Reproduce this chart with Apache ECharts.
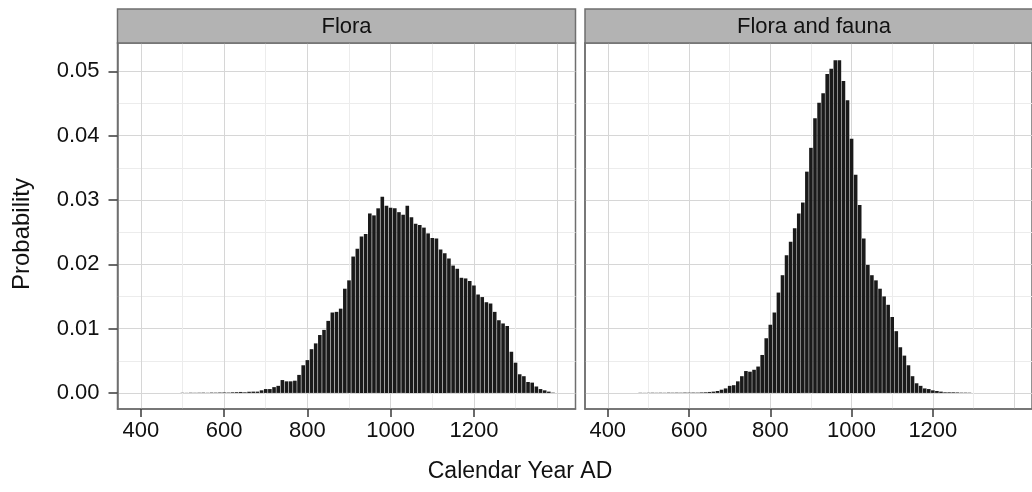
<!DOCTYPE html>
<html>
<head>
<meta charset="utf-8">
<title>Flora / Flora and fauna</title>
<script src="https://cdn.jsdelivr.net/npm/echarts@6/dist/echarts.min.js"></script>
<style>
  html, body { margin: 0; padding: 0; background: #fff; }
  #chart { width: 1032px; height: 492px; }
</style>
</head>
<body>
<div id="chart"></div>
<script>
// facet titles
const panels = ["Flora", "Flora and fauna"];

// bin centres (10-year bins) and probabilities
const floraYears = [
  500, 510, 520, 530, 540, 550, 560, 570, 580, 590,
  600, 610, 620, 630, 640, 650, 660, 670, 680, 690,
  700, 710, 720, 730, 740, 750, 760, 770, 780, 790,
  800, 810, 820, 830, 840, 850, 860, 870, 880, 890,
  900, 910, 920, 930, 940, 950, 960, 970, 980, 990,
  1000, 1010, 1020, 1030, 1040, 1050, 1060, 1070, 1080, 1090,
  1100, 1110, 1120, 1130, 1140, 1150, 1160, 1170, 1180, 1190,
  1200, 1210, 1220, 1230, 1240, 1250, 1260, 1270, 1280, 1290,
  1300, 1310, 1320, 1330, 1340, 1350, 1360, 1370, 1380, 1390
];
const floraProb = [
  0.00003, 0.00002, 0.00004, 0.00003, 0.00004, 0.00005, 0.00003, 0.00006, 0.00005, 0.00007,
  0.00008, 0.00006, 0.0001, 0.00012, 0.00015, 0.0001, 0.00018, 0.0002, 0.0002, 0.0004,
  0.0006, 0.0006, 0.0009, 0.0011, 0.002, 0.0018, 0.0018, 0.0019, 0.0028, 0.0043,
  0.0051, 0.0068, 0.0077, 0.009, 0.0098, 0.0112, 0.0125, 0.0126, 0.0131, 0.0162,
  0.0175, 0.0212, 0.0224, 0.0243, 0.0247, 0.0279, 0.0276, 0.0287, 0.0305, 0.0291,
  0.0288, 0.0287, 0.0281, 0.0277, 0.0291, 0.0273, 0.0263, 0.0261, 0.0257, 0.0248,
  0.0241, 0.024, 0.0223, 0.0217, 0.0209, 0.0198, 0.0193, 0.0179, 0.0178, 0.0174,
  0.0167, 0.0153, 0.0149, 0.0141, 0.0139, 0.0126, 0.0113, 0.0108, 0.0104, 0.0064,
  0.0047, 0.0029, 0.0026, 0.0017, 0.0016, 0.001, 0.0006, 0.0004, 0.0002, 0.00005
];

const faunaYears = [
  480, 490, 500, 510, 520, 530, 540, 550, 560, 570, 580, 590,
  600, 610, 620, 630, 640, 650, 660, 670, 680, 690,
  700, 710, 720, 730, 740, 750, 760, 770, 780, 790,
  800, 810, 820, 830, 840, 850, 860, 870, 880, 890,
  900, 910, 920, 930, 940, 950, 960, 970, 980, 990,
  1000, 1010, 1020, 1030, 1040, 1050, 1060, 1070, 1080, 1090,
  1100, 1110, 1120, 1130, 1140, 1150, 1160, 1170, 1180, 1190,
  1200, 1210, 1220, 1230, 1240, 1250, 1260, 1270, 1280, 1290
];
const faunaProb = [
  0.00003, 0.00002, 0.00003, 0.00004, 0.00003, 0.00004, 0.00003, 0.00005, 0.00004, 0.00005, 0.00004, 0.00006,
  0.00005, 0.00006, 0.00005, 0.00008, 0.0001, 0.00015, 0.0002, 0.0003, 0.0005, 0.0007,
  0.0011, 0.0012, 0.0018, 0.0026, 0.0034, 0.0033, 0.0036, 0.0041, 0.0059, 0.0085,
  0.0106, 0.0125, 0.0156, 0.0183, 0.0214, 0.0235, 0.0256, 0.0279, 0.0296, 0.0344,
  0.0381, 0.0427, 0.0451, 0.0466, 0.0496, 0.0504, 0.0517, 0.0517, 0.0485, 0.0455,
  0.0395, 0.0339, 0.0292, 0.024, 0.0199, 0.0183, 0.0175, 0.0162, 0.015, 0.0137,
  0.0118, 0.0096, 0.0071, 0.0058, 0.0043, 0.0026, 0.0015, 0.0011, 0.0007, 0.0006,
  0.0004, 0.0003, 0.0002, 0.0001, 0.0001, 0.0001, 0.00008, 0.00005, 0.00005, 0.00004
];

// labelled breaks
const xTicks = [400, 600, 800, 1000, 1200];
const yTicks = [0, 0.01, 0.02, 0.03, 0.04, 0.05];

const FONT_FAMILY = "'Liberation Sans', Arial, Helvetica, sans-serif";
const X_MIN = 344, X_MAX = 1444;
const Y_MIN = -0.0025, Y_MAX = 0.0544;
const TOP = 43, H = 366, W = 458;
const LEFTS = [117.5, 585];
const STRIP_H = 34;
const BORDER = "#6f6f6f";
const TICK = "#3a3a3a";
const MAJOR = "#d6d6d6", MINOR = "#ececec";

const chart = echarts.init(document.getElementById("chart"));

const grids = [];
const xAxes = [];
const yAxes = [];
const series = [];
const graphics = [];

LEFTS.forEach((left, i) => {
  grids.push({
    left: left, top: TOP, width: W, height: H,
    show: true, backgroundColor: "#fff",
    borderColor: BORDER, borderWidth: 1.5
  });
  // visible axis: ticks + labels (line sits on the panel border)
  xAxes.push({
    type: "value", gridIndex: i, min: X_MIN, max: X_MAX, position: "bottom",
    axisLine: { show: true, onZero: false, lineStyle: { color: BORDER, width: 1.5 } },
    axisTick: { show: true, length: 8, customValues: xTicks, lineStyle: { color: TICK, width: 1.5 } },
    axisLabel: {
      show: true, customValues: xTicks, margin: 11, color: "#111", fontSize: 22, fontFamily: FONT_FAMILY,
      formatter: (v) => String(v)
    },
    splitLine: { show: false }
  });
  // hidden axis: grid lines every 100 years
  xAxes.push({
    type: "value", gridIndex: i, min: X_MIN, max: X_MAX, splitNumber: 11, position: "bottom",
    axisLine: { show: false, onZero: false }, axisTick: { show: false }, axisLabel: { show: false },
    splitLine: { show: true, showMinLine: false, showMaxLine: false, lineStyle: { color: [MAJOR, MINOR], width: 1 } }
  });
  yAxes.push({
    type: "value", gridIndex: i, min: Y_MIN, max: Y_MAX, position: "left",
    axisLine: { show: true, onZero: false, lineStyle: { color: BORDER, width: 1.5 } },
    axisTick: { show: i === 0, length: 9, customValues: yTicks, lineStyle: { color: TICK, width: 1.5 } },
    axisLabel: {
      show: i === 0, customValues: yTicks, margin: 18, color: "#111", fontSize: 22, fontFamily: FONT_FAMILY,
      formatter: (v) => v.toFixed(2)
    },
    splitLine: { show: false }
  });
  // hidden axis: grid lines every 0.005
  yAxes.push({
    type: "value", gridIndex: i, min: Y_MIN, max: Y_MAX, splitNumber: 11, position: "left",
    axisLine: { show: false, onZero: false }, axisTick: { show: false }, axisLabel: { show: false },
    splitLine: { show: true, showMinLine: false, showMaxLine: false, lineStyle: { color: [MAJOR, MINOR], width: 1 } }
  });

  const years = i === 0 ? floraYears : faunaYears;
  const probs = i === 0 ? floraProb : faunaProb;
  series.push({
    name: panels[i],
    type: "bar",
    xAxisIndex: i * 2,
    yAxisIndex: i * 2,
    barWidth: 3.6,
    itemStyle: { color: "#1a1a1a" },
    data: years.map((y, k) => [y, probs[k]]),
    z: 3
  });

  // facet strip
  graphics.push({
    type: "rect", silent: true, z: 10,
    shape: { x: left, y: TOP - STRIP_H, width: W, height: STRIP_H },
    style: { fill: "#b3b3b3", stroke: BORDER, lineWidth: 1.5 }
  });
  graphics.push({
    type: "text", silent: true, z: 11,
    x: left + W / 2, y: TOP - STRIP_H / 2 + 1,
    style: {
      text: panels[i], fill: "#111", font: "22px " + FONT_FAMILY,
      textAlign: "center", textVerticalAlign: "middle"
    }
  });
});

// axis titles
graphics.push({
  type: "text", silent: true,
  x: 520, y: 472,
  style: {
    text: "Calendar Year AD", fill: "#111", font: "23px " + FONT_FAMILY,
    textAlign: "center", textVerticalAlign: "middle"
  }
});
graphics.push({
  type: "text", silent: true,
  x: 22, y: 234, rotation: Math.PI / 2,
  style: {
    text: "Probability", fill: "#111", font: "24px " + FONT_FAMILY,
    textAlign: "center", textVerticalAlign: "middle"
  }
});

chart.setOption({
  animation: false,
  backgroundColor: "#fff",
  grid: grids,
  xAxis: xAxes,
  yAxis: yAxes,
  series: series,
  graphic: graphics
});
</script>
</body>
</html>
